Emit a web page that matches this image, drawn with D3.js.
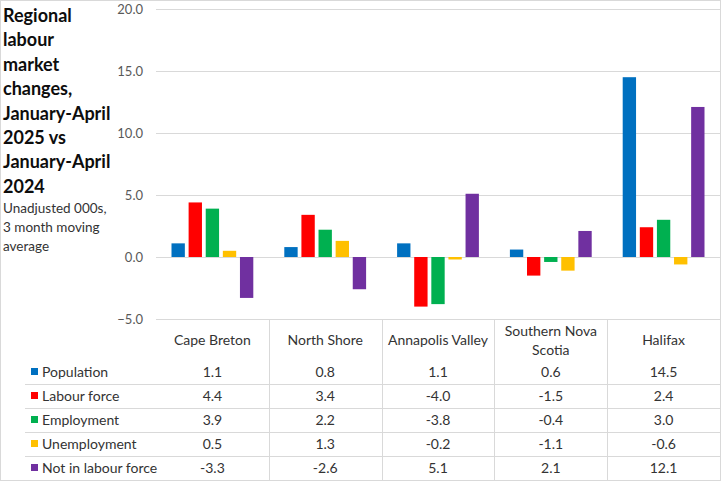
<!DOCTYPE html>
<html>
<head>
<meta charset="utf-8">
<script src="https://cdn.jsdelivr.net/npm/d3@7"></script>
<style>
  body { margin: 0; background: #fff; }
  text { font-family: Lato, "Open Sans", sans-serif; }
</style>
</head>
<body>
<svg width="721" height="481"></svg>
<script>
var regions = [["Cape Breton"], ["North Shore"], ["Annapolis Valley"], ["Southern Nova", "Scotia"], ["Halifax"]];
var seriesNames = ["Population", "Labour force", "Employment", "Unemployment", "Not in labour force"];
var colors = ["#0070C0", "#FF0000", "#00B050", "#FFC000", "#7030A0"];
var population = [1.1, 0.8, 1.1, 0.6, 14.5];
var labourForce = [4.4, 3.4, -4.0, -1.5, 2.4];
var employment = [3.9, 2.2, -3.8, -0.4, 3.0];
var unemployment = [0.5, 1.3, -0.2, -1.1, -0.6];
var notInLabourForce = [-3.3, -2.6, 5.1, 2.1, 12.1];
var yTicks = [-5, 0, 5, 10, 15, 20];
var titleLines = ["Regional", "labour", "market", "changes,", "January-April", "2025 vs", "January-April", "2024"];
var subtitleLines = ["Unadjusted 000s,", "3 month moving", "average"];

var series = [population, labourForce, employment, unemployment, notInLabourForce];

var svg = d3.select("svg");

// outer frame
svg.append("rect")
    .attr("x", 0.5).attr("y", 0.5)
    .attr("width", 720).attr("height", 480)
    .attr("fill", "none")
    .attr("stroke", "#d9d9d9");

var plot = {left: 156, right: 720, top: 9, bottom: 319};

var x0 = d3.scaleBand()
    .domain(d3.range(regions.length))
    .range([plot.left, plot.right]);

var x1 = d3.scaleBand()
    .domain(d3.range(seriesNames.length))
    .range([15.5, x0.bandwidth() - 15.5])
    .paddingInner(0.22);

var y = d3.scaleLinear()
    .domain([-5, 20])
    .range([plot.bottom, plot.top]);

// gridlines
svg.append("g")
  .selectAll("line")
  .data(yTicks)
  .enter().append("line")
    .attr("x1", plot.left)
    .attr("x2", plot.right)
    .attr("y1", function(d) { return Math.round(y(d)) + 0.5; })
    .attr("y2", function(d) { return Math.round(y(d)) + 0.5; })
    .attr("stroke", "#d9d9d9");

// y axis labels
var yAxis = svg.append("g")
    .attr("transform", "translate(" + (plot.left - 13) + ",0)")
    .call(d3.axisLeft(y).tickValues(yTicks).tickSize(0).tickPadding(0).tickFormat(d3.format(".1f")));
yAxis.select(".domain").remove();
yAxis.selectAll("text")
    .attr("fill", "#595959")
    .style("font-size", "13px")
    .style("font-family", "Lato, sans-serif");

// bars
var groups = svg.append("g")
  .selectAll("g")
  .data(regions)
  .enter().append("g")
    .attr("transform", function(d, i) { return "translate(" + x0(i) + ",0)"; });

groups.selectAll("rect")
  .data(function(d, i) { return series.map(function(s, k) { return {k: k, v: s[i]}; }); })
  .enter().append("rect")
    .attr("x", function(d) { return x1(d.k); })
    .attr("width", x1.bandwidth())
    .attr("y", function(d) { return y(Math.max(0, d.v)); })
    .attr("height", function(d) { return Math.abs(y(d.v) - y(0)); })
    .attr("fill", function(d) { return colors[d.k]; });

// data table
var rowTop = 360, rowH = 24, tableLeft = 25;

svg.append("g")
  .selectAll("line")
  .data(d3.range(1, regions.length))
  .enter().append("line")
    .attr("x1", function(d) { return Math.round(x0(d)) + 0.5; })
    .attr("x2", function(d) { return Math.round(x0(d)) + 0.5; })
    .attr("y1", plot.bottom)
    .attr("y2", 480)
    .attr("stroke", "#d9d9d9");

svg.append("g")
  .selectAll("line")
  .data(d3.range(1, seriesNames.length))
  .enter().append("line")
    .attr("x1", tableLeft)
    .attr("x2", plot.right)
    .attr("y1", function(d) { return rowTop + d * rowH + 0.5; })
    .attr("y2", function(d) { return rowTop + d * rowH + 0.5; })
    .attr("stroke", "#d9d9d9");

// category labels
svg.append("g")
  .selectAll("text")
  .data(regions)
  .enter().append("text")
    .attr("x", function(d, i) { return x0(i) + x0.bandwidth() / 2; })
    .attr("y", function(d) { return d.length > 1 ? 336 : 345; })
    .attr("text-anchor", "middle")
    .attr("fill", "#333")
    .style("font-size", "14px")
  .selectAll("tspan")
  .data(function(d) { return d; })
  .enter().append("tspan")
    .attr("x", function() { return this.parentNode.getAttribute("x"); })
    .attr("dy", function(d, i) { return i ? 19 : 0; })
    .text(function(d) { return d; });

// legend keys + row labels
var rows = svg.append("g")
  .selectAll("g")
  .data(seriesNames)
  .enter().append("g")
    .attr("transform", function(d, i) { return "translate(0," + (rowTop + i * rowH) + ")"; });

rows.append("rect")
    .attr("x", 31)
    .attr("y", 8)
    .attr("width", 7)
    .attr("height", 7)
    .attr("fill", function(d, i) { return colors[i]; });

rows.append("text")
    .attr("x", 42)
    .attr("y", 17)
    .attr("fill", "#333")
    .style("font-size", "14px")
    .text(function(d) { return d; });

rows.selectAll(".val")
  .data(function(d, i) { return series[i]; })
  .enter().append("text")
    .attr("class", "val")
    .attr("x", function(d, j) { return x0(j) + x0.bandwidth() / 2; })
    .attr("y", 17)
    .attr("text-anchor", "middle")
    .attr("fill", "#333")
    .style("font-size", "14px")
    .text(function(d) { return d3.format(".1f")(d).replace("−", "-"); });

// title
svg.append("text")
    .attr("x", 3)
    .attr("y", 22)
    .attr("fill", "#0d0d0d")
    .style("font-size", "18px")
    .style("font-weight", "bold")
  .selectAll("tspan")
  .data(titleLines)
  .enter().append("tspan")
    .attr("x", 3)
    .attr("dy", function(d, i) { return i ? 24.4 : 0; })
    .text(function(d) { return d; });

svg.append("text")
    .attr("x", 3)
    .attr("y", 213)
    .attr("fill", "#333")
    .style("font-size", "13.5px")
  .selectAll("tspan")
  .data(subtitleLines)
  .enter().append("tspan")
    .attr("x", 3)
    .attr("dy", function(d, i) { return i ? 19 : 0; })
    .text(function(d) { return d; });
</script>
</body>
</html>
